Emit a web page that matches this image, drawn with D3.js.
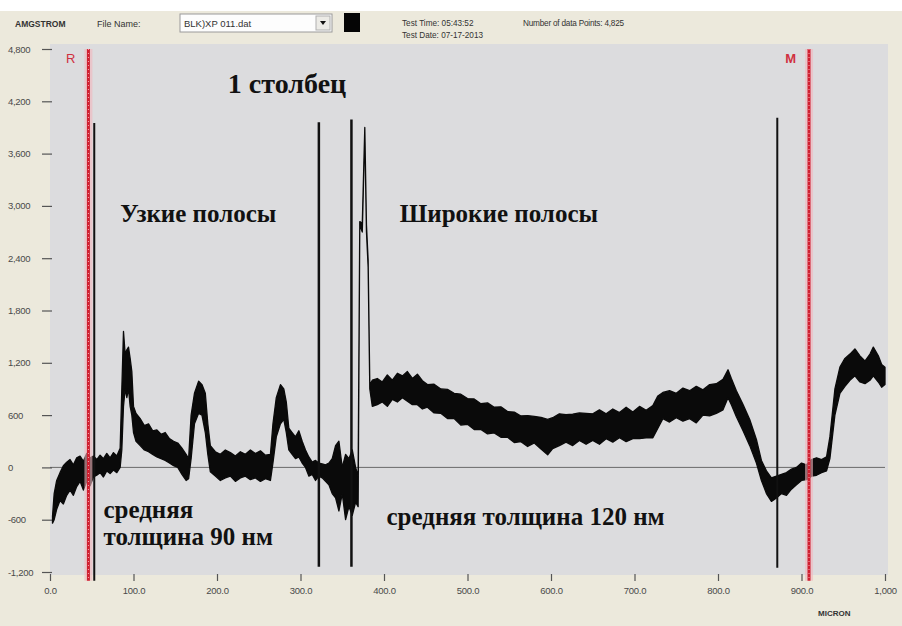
<!DOCTYPE html>
<html><head><meta charset="utf-8">
<script src="https://cdn.jsdelivr.net/npm/d3@7"></script>
<style>
  body{margin:0;background:#fff}
  svg{display:block}
</style>
</head><body>
<svg id="chart" width="902" height="626"></svg>
<script>
// Surface profile scan: position in microns vs height in angstroms.
// The trace is stored as a noise envelope (lower / upper) along the scan.
const traceMicron = [3,5,8,12,16,20,24,28,32,36,
  40,44,48,52,56,60,64,68,72,76,
  80,84,86,88,90,92,94,96,98,100,
  103,108,113,118,123,128,133,138,143,148,
  153,158,163,166,169,173,178,182,186,189,
  192,198,204,210,216,222,228,234,240,246,
  252,258,264,267,271,276,280,283,286,290,
  294,298,302,306,310,314,318,322,326,330,
  334,338,342,346,350,354,358,362,366,369,
  371,374,377,379,381,383,386,392,398,404,
  410,416,422,428,434,440,446,452,460,468,
  476,484,492,500,508,516,524,532,540,548,
  556,564,572,580,588,596,602,610,618,626,
  634,642,650,658,666,674,682,690,698,706,
  714,722,728,734,742,750,758,766,774,782,
  790,798,806,812,816,822,830,838,846,852,
  858,864,870,876,882,888,894,900,906,912,
  918,924,930,934,940,946,952,958,964,970,
  976,982,986,992,996,1000];

const traceLow = [-640,-600,-480,-380,-420,-320,-260,-320,-220,-160,
  -260,-160,-210,-110,-90,-60,-110,-40,-70,-30,
  -60,0,200,700,900,800,900,700,600,400,
  300,250,200,180,150,120,100,80,50,20,
  0,-80,-150,-130,100,500,620,600,400,150,
  -50,-100,-150,-120,-100,-160,-120,-100,-140,-120,
  -160,-130,-150,50,350,500,550,400,200,150,
  100,120,50,0,-100,-80,-150,-100,-120,-160,
  -200,-300,-350,-500,-300,-600,-450,-550,-400,-450,
  2780,2700,3850,2700,2300,900,700,720,750,700,
  780,750,800,760,720,720,670,690,625,620,
  560,560,485,495,435,435,385,395,345,345,
  285,295,240,280,210,145,215,250,290,250,
  310,265,310,265,330,290,340,295,330,330,
  340,340,450,560,520,570,530,560,510,600,
  590,620,660,800,720,580,420,250,50,-150,
  -300,-390,-350,-300,-320,-250,-200,-150,-140,-100,
  -90,-60,-40,100,600,850,930,1000,1050,980,
  960,1000,1050,980,920,950];

const traceHigh = [-560,-300,-150,-60,20,60,90,30,110,130,
  70,160,110,130,90,140,100,160,110,170,
  130,220,900,1560,1300,1350,1380,1250,1100,700,
  620,560,480,500,420,430,380,400,330,300,
  280,220,150,100,600,850,990,950,850,500,
  250,180,150,200,170,130,180,150,200,160,
  190,140,150,500,800,950,900,750,450,400,
  350,420,300,200,120,60,80,50,40,30,
  50,100,250,300,0,150,100,200,0,-100,
  2820,2800,3900,2780,2380,950,1000,1020,980,1060,
  1000,1080,1050,1100,1020,1070,995,950,955,900,
  895,850,840,790,785,730,740,690,695,640,
  635,590,595,585,575,550,570,615,605,610,
  625,620,615,660,615,670,630,690,635,700,
  655,710,820,860,880,850,910,880,930,890,
  950,960,1010,1120,1020,880,720,550,320,80,
  -40,-120,-100,-80,-60,-20,0,50,30,90,
  110,90,120,350,900,1150,1250,1300,1360,1280,
  1220,1300,1380,1280,1180,1150];

// Axis ticks
const yTickValues = [4800, 4200, 3600, 3000, 2400, 1800, 1200, 600, 0, -600, -1200];
const yTickLabels = ["4,800","4,200","3,600","3,000","2,400","1,800","1,200","600","0","-600","-1,200"];
const xTickValues = [0, 100, 200, 300, 400, 500, 600, 700, 800, 900, 1000];
const xTickLabels = ["0.0","100.0","200.0","300.0","400.0","500.0","600.0","700.0","800.0","900.0","1,000"];

// Black marker lines (micron position, top and bottom height)
const markerMicron = [53, 322, 361, 871];
const markerTop = [3950, 3960, 3990, 4010];
const markerBottom = [-1300, -1140, -1140, -1150];

// Red cursors R and M
const cursorNames = ["R", "M"];
const cursorMicron = [46, 909];

// Annotations, anchored in data coordinates (micron, angstrom)
const noteTexts = ["1 столбец", "Узкие полосы", "Широкие полосы", "средняя", "толщина 90 нм", "средняя толщина 120 нм"];
const noteMicron = [213, 84, 419, 64, 64, 403];
const noteValue = [4290, 2810, 2810, -575, -895, -665];

const svg = d3.select("#chart");
const W = 902, H = 626;

const x = d3.scaleLinear().domain([0, 1000]).range([50, 885]);
const y = d3.scaleLinear().domain([-1200, 4800]).range([572, 49]);

// window background
svg.append("rect").attr("width", W).attr("height", H).attr("fill", "#ece9dc");
svg.append("rect").attr("width", W).attr("height", 11).attr("fill", "#ffffff");

// plot area
svg.append("rect")
  .attr("x", 50).attr("y", 44).attr("width", 838).attr("height", 531)
  .attr("fill", "#dcdcde");

// header
const hdr = svg.append("g").attr("font-family", "Liberation Sans, Arial, sans-serif").attr("fill", "#333");
hdr.append("text").attr("x", 15).attr("y", 27).attr("font-size", 8.5).attr("font-weight", "bold").text("AMGSTROM");
hdr.append("text").attr("x", 97).attr("y", 27).attr("font-size", 9).text("File Name:");
hdr.append("rect").attr("x", 180).attr("y", 14).attr("width", 152).attr("height", 18)
  .attr("fill", "#fdfdfd").attr("stroke", "#9a9a9a");
hdr.append("text").attr("x", 184).attr("y", 27).attr("font-size", 9.5).text("BLK)XP 011.dat");
hdr.append("rect").attr("x", 316).attr("y", 16).attr("width", 14).attr("height", 14)
  .attr("fill", "#ecebe6").attr("stroke", "#b0b0b0");
hdr.append("path").attr("d", "M320,21 L326,21 L323,25 Z").attr("fill", "#111");
hdr.append("rect").attr("x", 344).attr("y", 13).attr("width", 16).attr("height", 19).attr("fill", "#050505");
hdr.append("text").attr("x", 402).attr("y", 26).attr("font-size", 8.2).text("Test Time: 05:43:52");
hdr.append("text").attr("x", 402).attr("y", 38).attr("font-size", 8.2).text("Test Date: 07-17-2013");
hdr.append("text").attr("x", 523).attr("y", 26).attr("font-size", 8.2).attr("letter-spacing", -0.2)
  .text("Number of data Points: 4,825");

// zero line
svg.append("line")
  .attr("x1", 50).attr("x2", x(1000)).attr("y1", y(0)).attr("y2", y(0))
  .attr("stroke", "#6a6a6a").attr("stroke-width", 1);

// Y axis
const yAxis = svg.append("g").attr("transform", "translate(52,0)")
  .call(d3.axisLeft(y).tickValues(yTickValues).tickSize(10)
    .tickFormat((d, i) => yTickLabels[i]));
yAxis.select(".domain").remove();
yAxis.selectAll(".tick line").attr("stroke", "#555").attr("stroke-width", 1.2);
yAxis.selectAll(".tick text")
  .attr("text-anchor", "start").attr("x", -44)
  .attr("font-family", "Liberation Sans, Arial, sans-serif")
  .attr("font-size", 9.5).attr("fill", "#4a4a4a").attr("letter-spacing", -0.3);

// X axis
const xAxis = svg.append("g").attr("transform", "translate(0,574)")
  .call(d3.axisBottom(x).tickValues(xTickValues).tickSize(7).tickPadding(6)
    .tickFormat((d, i) => xTickLabels[i]));
xAxis.select(".domain").remove();
xAxis.selectAll(".tick line").attr("stroke", "#555").attr("stroke-width", 1.2);
xAxis.selectAll(".tick text")
  .attr("font-family", "Liberation Sans, Arial, sans-serif")
  .attr("font-size", 9.5).attr("fill", "#4a4a4a").attr("letter-spacing", -0.3);

svg.append("text").attr("x", 818).attr("y", 616)
  .attr("font-family", "Liberation Sans, Arial, sans-serif")
  .attr("font-size", 8).attr("font-weight", "bold").attr("fill", "#333")
  .text("MICRON");

// profile trace (noise envelope)
const traceData = traceMicron.map((m, i) => ({ m, lo: traceLow[i], hi: traceHigh[i] }));
const area = d3.area()
  .x(d => x(d.m))
  .y0(d => y(d.lo))
  .y1(d => y(d.hi));
svg.append("path").datum(traceData)
  .attr("d", area)
  .attr("fill", "#0a0a0a").attr("stroke", "#0a0a0a")
  .attr("stroke-width", 1.3).attr("stroke-linejoin", "round");

// red cursors
cursorMicron.forEach((m, i) => {
  const cx = x(m);
  svg.append("line").attr("x1", cx).attr("x2", cx).attr("y1", y(4800)).attr("y2", y(-1300))
    .attr("stroke", "#f2b6bd").attr("stroke-width", 8).attr("opacity", 0.6);
  svg.append("line").attr("x1", cx).attr("x2", cx).attr("y1", y(4800)).attr("y2", y(-1300))
    .attr("stroke", "#cf1f30").attr("stroke-width", 3);
  svg.append("line").attr("x1", cx).attr("x2", cx).attr("y1", y(4800)).attr("y2", y(-1300))
    .attr("stroke", "#f5a8b0").attr("stroke-width", 1).attr("stroke-dasharray", "1,3");
  svg.append("text").attr("x", cx - 13).attr("y", y(4800) + 14)
    .attr("text-anchor", "end")
    .attr("font-family", "Liberation Sans, Arial, sans-serif")
    .attr("font-size", 13).attr("font-weight", i === 1 ? "bold" : "normal")
    .attr("fill", "#d03040").text(cursorNames[i]);
});

// black marker lines
markerMicron.forEach((m, i) => {
  svg.append("line").attr("x1", x(m)).attr("x2", x(m))
    .attr("y1", y(markerTop[i])).attr("y2", y(markerBottom[i]))
    .attr("stroke", "#111").attr("stroke-width", i === 0 || i === 3 ? 2 : 2.5);
});

// annotations (the column title is set a little larger)
noteTexts.forEach((t, i) => {
  svg.append("text").attr("x", x(noteMicron[i])).attr("y", y(noteValue[i]))
    .attr("font-family", "Liberation Serif, Times New Roman, serif")
    .attr("font-weight", "bold").attr("font-size", i === 0 ? 28 : 25).attr("fill", "#111")
    .text(t);
});
</script>
</body></html>
